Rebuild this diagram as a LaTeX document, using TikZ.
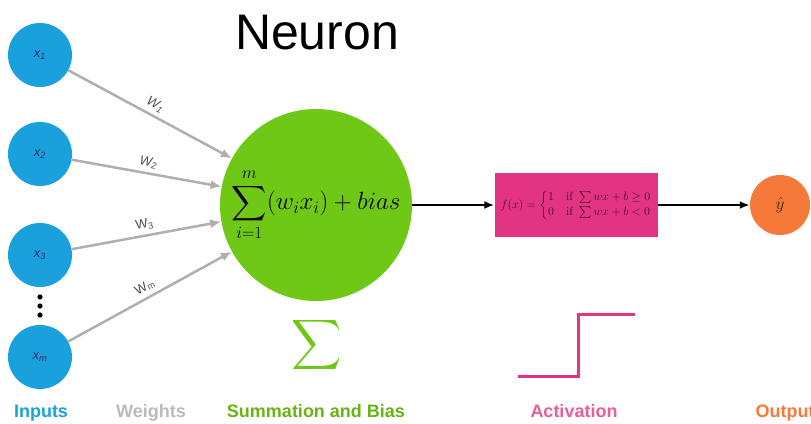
\documentclass[tikz,border=0pt]{standalone}
\usepackage{amsmath,amssymb}
\usepackage{fontspec}
\newfontfamily\labelfont{Liberation Sans}
\usetikzlibrary{arrows.meta,positioning}
\definecolor{inputblue}{RGB}{27,160,222}
\definecolor{sumgreen}{RGB}{112,200,22}
\definecolor{actpink}{RGB}{226,52,130}
\definecolor{outorange}{RGB}{245,122,58}
\definecolor{weightgray}{RGB}{175,175,175}
\definecolor{navytext}{RGB}{30,50,100}

\begin{document}
\begin{tikzpicture}[
			x=1pt, y=-1pt,
			input/.style={circle, fill=inputblue, minimum size=64pt, inner sep=0pt, text=navytext, font=\labelfont\itshape\fontsize{13}{14}\selectfont},
			summation/.style={circle, fill=sumgreen, minimum size=192pt, inner sep=0pt, font=\fontsize{24.5}{28}\selectfont},
			activation/.style={rectangle, fill=actpink, minimum width=163pt, minimum height=64pt, inner sep=0pt, text=black!70!actpink, font=\fontsize{12}{13}\selectfont},
			output/.style={circle, fill=outorange, minimum size=60pt, inner sep=0pt, text=black!75!outorange, font=\fontsize{18}{20}\selectfont},
			weight/.style={sloped, above, pos=0.5, inner sep=4pt, text=black!70, font=\labelfont\fontsize{13}{14}\selectfont},
			caption/.style={font=\labelfont\bfseries\fontsize{18}{20}\selectfont, anchor=base},
			link/.style={-{Latex[length=11pt, width=9pt]}, line width=2.5pt, weightgray},
			flow/.style={-{Latex[length=10pt, width=8pt]}, line width=2.5pt, black}
			]
			\useasboundingbox (0,0) rectangle (811,423);
			
			% Title
			\node[font=\labelfont\fontsize{50}{54}\selectfont] (Title) at (317,33) {Neuron};
			
			% Inputs
			\node[input] (X1) at (40,55) {x\textsubscript{1}};
			\node[input] (X2) at (40,154) {x\textsubscript{2}};
			\node[input] (X3) at (40,255) {x\textsubscript{3}};
			\node[input] (Xm) at (40,357) {x\textsubscript{m}};
			\foreach \y in {297,306,315}
				\fill (40,\y) circle (2.6pt);
			
			% Neuron body
			\node[summation] (Sum) at (316,205) {$\displaystyle\sum_{i=1}^{m}(w_i x_i) + bias$};
			\node[activation] (Act) at (576,205) {$f(x)=\begin{cases}1 & \text{if } \sum wx+b\geq 0\\ 0 & \text{if } \sum wx+b<0\end{cases}$};
			\node[output] (Out) at (780,205) {$\hat{y}$};
			
			% Weighted connections
			\draw[link] (X1) -- node[weight] {\itshape W\textsubscript{1}} (Sum.151);
			\draw[link] (X2) -- node[weight] {\itshape W\textsubscript{2}} (Sum.169);
			\draw[link] (X3) -- node[weight] {W\textsubscript{3}} (Sum.190);
			\draw[link] (Xm) -- node[weight] {W\textsubscript{m}} (Sum.209);
			
			% Signal flow
			\draw[flow] (Sum) -- (Act);
			\draw[flow] (Act) -- (Out);
			
			% Symbols
			\node[text=sumgreen, font=\fontsize{35}{37}\selectfont] (Sigma) at (317,345) {$\displaystyle\sum$};
			\draw[actpink, line width=3pt] (518,376) -- (578,376) -- (578,314) -- (635,314);
			
			% Captions
			\node[caption, text=inputblue] (LIn) at (41,417) {Inputs};
			\node[caption, text=weightgray!85] (LW) at (151,417) {Weights};
			\node[caption, text=sumgreen!90!black] (LSum) at (316,417) {Summation and Bias};
			\node[caption, text=actpink!80] (LAct) at (574,417) {Activation};
			\node[caption, text=outorange, anchor=base west] (LOut) at (752,417) {Output};
			
		\end{tikzpicture}
\end{document}
